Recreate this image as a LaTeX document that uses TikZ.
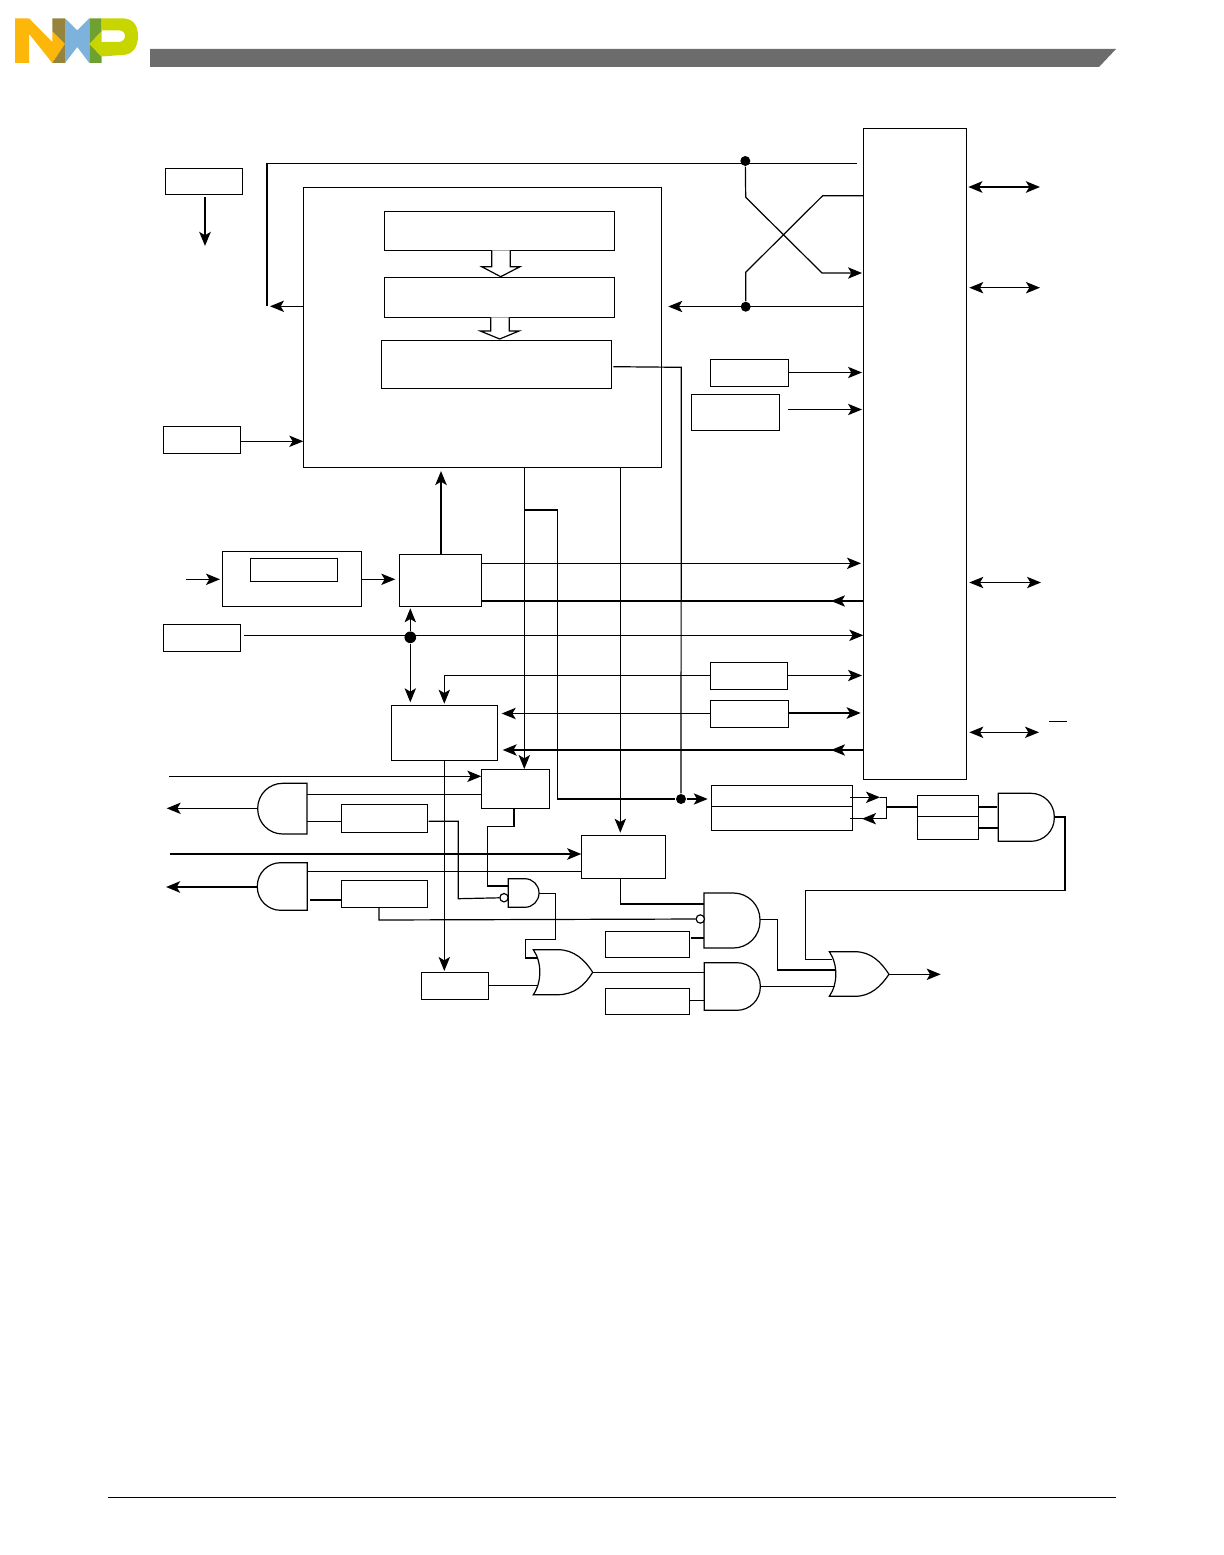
\documentclass[tikz,border=0pt]{standalone}
\usepackage{tikz}
\usetikzlibrary{arrows.meta,positioning,calc}
\definecolor{barcolor}{RGB}{108,108,108}
\definecolor{nxporange}{RGB}{253,182,10}
\definecolor{nxpolive}{RGB}{150,132,60}
\definecolor{nxpblue}{RGB}{125,178,220}
\definecolor{nxpgreen}{RGB}{110,160,50}
\definecolor{nxplime}{RGB}{200,214,0}

\begin{document}
\begin{tikzpicture}[x=0.6pt, y=-0.6pt,
    >={Stealth[length=8.4pt, width=6.8pt, inset=2pt]},
    line width=0.72pt,
    box/.style={draw, rectangle, anchor=north west, inner sep=0pt, outer sep=0pt},
    sz/.style 2 args={minimum width=#1*0.6pt, minimum height=#2*0.6pt},
    sig/.style={->, shorten >=1.2pt},
    heavy/.style={line width=1.5pt},
    wire/.style={line join=miter},
    dot/.style={circle, fill=black, inner sep=0pt, minimum size=6pt},
    bub/.style={circle, draw, fill=white, inner sep=0pt, minimum size=5pt},
    hollow/.style={draw, fill=white, line join=miter}]
    \useasboundingbox (0,0) rectangle (1224,1555);
    % --- Page furniture ---
    \fill[barcolor] (150,49) -- (1116,49) -- (1099,67) -- (150,67) -- cycle;
    \draw[line width=0.5pt] (108,1497) -- (1116,1497);
    \fill[nxporange] (15,18.3) -- (29,18.3) -- (52.3,42) -- (52.3,31.3) -- (65,44) -- (52.3,63) -- (29,33.7) -- (29,63) -- (15,63) -- cycle;
    \fill[nxpolive] (52.3,18.3) -- (65,18.3) -- (65,44) -- (52.3,31.3) -- cycle;
    \fill[nxpolive] (52.3,63) -- (65,44) -- (65,63) -- cycle;
    \fill[nxpblue] (65,18.3) -- (77.3,30.3) -- (89.3,18.3) -- (89.3,63) -- (77.3,47) -- (65,63) -- cycle;
    \fill[nxpgreen] (89.3,18.3) -- (101.7,18.3) -- (101.7,31.5) -- (89.3,44) -- cycle;
    \fill[nxpgreen] (89.3,44) -- (101.7,56.5) -- (101.7,63) -- (89.3,63) -- cycle;
    \fill[nxplime, even odd rule] (101.7,18.3) -- (122,18.3) .. controls (132,18.3) and (138,24) .. (138,36)
      .. controls (138,48) and (132,55) .. (122,55) -- (101.7,56.5) -- (89.3,44) -- (101.7,31.5) -- cycle
      (101.7,30.3) -- (101.7,42) -- (118,42) .. controls (122,42) and (125,40) .. (125,36)
      .. controls (125,32) and (122,30.3) .. (118,30.3) -- cycle;
    % --- Blocks ---
    \node[box, sz={77}{26}] (mode) at (165.3,168.3) {};
    \node[box, sz={358}{280}] (core) at (303.3,187.3) {};
    \node[box, sz={230}{39}] (stagea) at (384.3,211.3) {};
    \node[box, sz={230}{40}] (stageb) at (384.3,277.3) {};
    \node[box, sz={230.4}{48}] (stagec) at (381.3,340.3) {};
    \node[box, sz={77.4}{27}] (clksel) at (163.3,426.3) {};
    \node[box, sz={103.4}{651}] (pads) at (863.3,128.3) {};
    \node[box, sz={78}{27}] (enb) at (710.3,359.3) {};
    \node[box, sz={88}{36}] (enc) at (691.3,394.3) {};
    \node[box, sz={139}{55}] (filter) at (222.3,551.3) {};
    \node[box, sz={87}{23}] (filterin) at (250.3,558.3) {};
    \node[box, sz={82.4}{52}] (sync) at (399.3,554.3) {};
    \node[box, sz={77.4}{27}] (rst) at (163.3,624.3) {};
    \node[box, sz={77.4}{27}] (ena) at (710.3,662.3) {};
    \node[box, sz={78}{27}] (end) at (710.3,700.3) {};
    \node[box, sz={106.4}{55}] (ctrl) at (391.3,705.3) {};
    \node[box, sz={68}{39}] (mux) at (481.3,769.3) {};
    \node[box, sz={86.4}{28}] (rega) at (341.3,804.3) {};
    \node[box, sz={86.4}{27}] (regb) at (341.3,880.3) {};
    \node[box, sz={84}{43}] (cmp) at (581.3,835.3) {};
    \node[box, sz={141.4}{45}] (latch) at (711.3,785.3) {};
    \node[box, sz={61}{44}] (dual) at (917.3,795.3) {};
    \node[box, sz={84}{26}] (regc) at (605.3,931.3) {};
    \node[box, sz={84}{26}] (regd) at (605.3,988.3) {};
    \node[box, sz={67.4}{27}] (flag) at (421.3,972.3) {};
    \draw (latch.west |- 0,806.3) -- (latch.east |- 0,806.3);
    \draw (dual.west |- 0,816.7) -- (dual.east |- 0,816.7);
    % --- Hollow arrows between the stages ---
    \draw[hollow] (491.7,250.3) -- (491.7,266.7) -- (481.7,266.7) -- (500.7,276.7) -- (520,266.7) -- (510.3,266.7) -- (510.3,250.3);
    \draw[hollow] (490.7,317.3) -- (490.7,331) -- (480.3,331) -- (499.7,339) -- (519,331) -- (509.3,331) -- (509.3,317.3);
    % --- Gates ---
    \draw (307,783.3) [rounded corners=15pt] -- (257.7,783.3) -- (257.7,834) [sharp corners] -- (307,834) -- cycle;
    \draw (307.3,862.7) [rounded corners=14pt] -- (257.3,862.7) -- (257.3,910.3) [sharp corners] -- (307.3,910.3) -- cycle;
    \draw (508.3,878.7) [rounded corners=8.5pt] -- (539,878.7) -- (539,907.3) [sharp corners] -- (508.3,907.3) -- cycle;
    \draw (704,893) [rounded corners=16pt] -- (760,893) -- (760,948) [sharp corners] -- (704,948) -- cycle;
    \draw (704.3,962.7) [rounded corners=14pt] -- (760.3,962.7) -- (760.3,1010.3) [sharp corners] -- (704.3,1010.3) -- cycle;
    \draw (998.3,793.3) [rounded corners=14pt] -- (1054.3,793.3) -- (1054.3,841.3) [sharp corners] -- (998.3,841.3) -- cycle;
    \draw (533.3,949.7) -- (558,949.7) .. controls (574,949.7) and (585,960) .. (592.7,972.3)
      .. controls (585,985) and (574,994.7) .. (558,994.7) -- (533.3,994.7)
      .. controls (542,982) and (542,962) .. (533.3,949.7) -- cycle;
    \draw (829.3,951.7) -- (855,951.7) .. controls (871,951.7) and (881,962) .. (889,974.3)
      .. controls (881,986) and (871,996.3) .. (855,996.3) -- (829.3,996.3)
      .. controls (838,984) and (838,964) .. (829.3,951.7) -- cycle;
    \coordinate (andtop) at (257.7,808.3);
    \coordinate (andlow) at (257.3,887);
    \coordinate (orfirst) at (592.7,972.3);
    \coordinate (orlast) at (889,974.3);
    \coordinate (nandout) at (539,893.3);
    \coordinate (andout) at (1054.3,817);
    \coordinate (andmid) at (760,919.7);
    \coordinate (andbot) at (760.3,986.3);
    % --- Junctions ---
    \node[dot] (jtop) at (745.3,161) {};
    \node[dot] (jlow) at (745.7,306.7) {};
    \node[dot, minimum size=7pt] (jrst) at (410.3,637.3) {};
    \node[dot] (jlatch) at (681,799) {};
    \node[bub] (bubnand) at (504,897.7) {};
    \node[bub] (bubmid) at (700.3,919) {};
    % --- Upper part ---
    \draw[->, heavy] (205,197) -- (205,246);
    \draw (267,163.4) -- (857,163.4);
    \draw[heavy] (267,163) -- (267,306);
    \draw[->] (core.west |- 0,306.3) -- (270,306.3);
    \draw[->] (clksel.east |- 0,441.3) -- (core.west |- 0,441.3);
    \draw[wire, ->] (jtop) -- (745.7,197.3) -- (822,273) -- (862,273);
    \draw[wire] (jlow) -- (745.7,272.3) -- (822.7,195.7) -- (pads.west |- 0,195.7);
    \draw[->] (pads.west |- 0,306.5) -- (668.3,306.5);
    \draw[->] (enb.east |- 0,372.5) -- (862,372.5);
    \draw[->] (788,409.5) -- (862,409.5);
    \draw[wire] (613.3,366.7) -- (681.3,367.3) -- (jlatch);
    % --- Right side pins ---
    \draw[<->, heavy] (968.3,187) -- (1040,187);
    \draw[<->] (969.3,287.7) -- (1040,287.7);
    \draw[<->] (969.3,582.5) -- (1041,582.5);
    \draw[<->] (969.3,732.3) -- (1039,732.3);
    \draw[line width=0.5pt] (1049,721) -- (1066.7,721);
    % --- Middle part ---
    \draw[->] (186,579.3) -- (220,579.3);
    \draw[->] (filter.east |- 0,579.3) -- (395.3,579.3);
    \draw[->, heavy] (sync.north -| 441,0) -- (441,471);
    \draw[->] (sync.east |- 0,563.3) -- (861,563.3);
    \draw[heavy] (sync.east |- 0,601) -- (836,601);
    \draw[->] (pads.west |- 0,601) -- (831,601);
    \draw[->] (244,635.3) -- (pads.west |- 0,635.3);
    \draw[sig] (jrst) -- (sync.south -| jrst);
    \draw[->] (jrst) -- (410.3,702.3);
    \draw[wire, ->] (ena.west |- 0,675.3) -- (444.3,675.3) -- (444.3,703.7);
    \draw[->] (ena.east |- 0,675.5) -- (862,675.5);
    \draw[->] (end.west |- 0,713.5) -- (501.7,713.5);
    \draw[->, heavy] (end.east |- 0,713) -- (860.7,713);
    \draw[heavy] (510,750) -- (836,750);
    \draw[->] (515,750) -- (502.7,750);
    \draw[->] (pads.west |- 0,750) -- (831,750);
    \draw[->] (524.3,467.3) -- (524.3,769);
    \draw[wire] (524.3,510) -- (557.3,510) -- (557.3,799) -- (jlatch);
    \draw[->] (jlatch) -- (707.7,799);
    \draw[->] (620.3,467.3) -- (620.3,832.7);
    % --- Lower part ---
    \draw[->] (169,776.3) -- (mux.west |- 0,776.3);
    \draw (307,794.3) -- (mux.west |- 0,794.3);
    \draw[->] (andtop) -- (166.7,808.3);
    \draw (307,821.3) -- (rega.west |- 0,821.3);
    \draw[wire] (428.7,821.3) -- (458.3,821.3) -- (458.3,898.7) -- (bubnand);
    \draw[wire] (514,808.3) -- (514,826.3) -- (487.3,826.3) -- (487.3,886) -- (508.3,886);
    \draw[->, heavy] (170,854) -- (cmp.west |- 0,854);
    \draw (307.3,871.3) -- (cmp.west |- 0,871.3);
    \draw[->, heavy] (andlow) -- (166,887);
    \draw[heavy] (310.3,900) -- (regb.west |- 0,900);
    \draw[wire] (379,907.3) -- (379,920) -- (bubmid);
    \draw[->] (444.3,760.3) -- (444.3,971);
    \draw (flag.east |- 0,985.3) -- (537,985.3);
    \draw[wire] (nandout) -- (555.7,893.3) -- (555.7,939.7) -- (525.3,939.7) -- (525.3,958) -- (537,958);
    \draw (orfirst) -- (704.3,972.3);
    \draw[wire] (620.3,878.3) -- (620.3,904) -- (704,904);
    \draw[heavy] (691,938) -- (704,938);
    \draw (regd.east |- 0,1000.3) -- (704.3,1000.3);
    \draw[wire] (andmid) -- (777.7,919.7) -- (777.7,970) -- (836,970);
    \draw (andbot) -- (835,986.3);
    \draw[->] (orlast) -- (940.7,974.3);
    % --- Latch and pin gate ---
    \draw[->] (850,797.3) -- (880,797.3);
    \draw[wire] (880,797.3) -- (886.7,797.3) -- (886.7,818.7) -- (862,818.7);
    \draw[->] (875,818.7) -- (862,818.7);
    \draw (862,818.7) -- (850,818.7);
    \draw[heavy] (887.3,807) -- (dual.west |- 0,807);
    \draw[heavy] (dual.east |- 0,807) -- (996.7,807);
    \draw (dual.east |- 0,828) -- (998.3,828);
    \draw[wire] (andout) -- (1065,817) -- (1065,890.7) -- (805.7,890.7) -- (805.7,959.3) -- (832,959.3);
  \end{tikzpicture}
\end{document}
